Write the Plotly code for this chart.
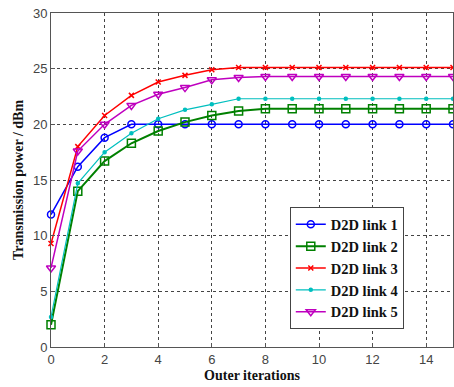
import plotly.graph_objects as go

iterations = list(range(0, 16))
link1 = [11.9, 16.2, 18.8, 20.0, 20.0, 20.0, 20.0, 20.0, 20.0, 20.0, 20.0, 20.0, 20.0, 20.0, 20.0, 20.0]
link2 = [2.0, 14.0, 16.7, 18.3, 19.4, 20.2, 20.8, 21.2, 21.4, 21.4, 21.4, 21.4, 21.4, 21.4, 21.4, 21.4]
link3 = [9.3, 18.0, 20.8, 22.6, 23.8, 24.4, 24.9, 25.1, 25.1, 25.1, 25.1, 25.1, 25.1, 25.1, 25.1, 25.1]
link4 = [2.7, 14.7, 17.5, 19.2, 20.5, 21.3, 21.8, 22.3, 22.3, 22.3, 22.3, 22.3, 22.3, 22.3, 22.3, 22.3]
link5 = [7.1, 17.6, 20.0, 21.7, 22.7, 23.3, 24.0, 24.2, 24.3, 24.3, 24.3, 24.3, 24.3, 24.3, 24.3, 24.3]
names = ["D2D link 1", "D2D link 2", "D2D link 3", "D2D link 4", "D2D link 5"]
x_ticks = [0, 2, 4, 6, 8, 10, 12, 14]
y_ticks = [0, 5, 10, 15, 20, 25, 30]

series = [link1, link2, link3, link4, link5]
colors = ["#0000FF", "#008000", "#FF0000", "#00BFBF", "#BF00BF"]
symbols = ["circle-open", "square-open", "x-thin-open", "circle", "triangle-down-open"]
sizes = [7, 8, 5, 3, 8]
widths = [1.5, 2, 1.5, 1.2, 1.5]

fig = go.Figure()
for vals, name, c, s, sz, w in zip(series, names, colors, symbols, sizes, widths):
    fig.add_trace(go.Scatter(
        x=iterations, y=vals, name=name, mode="lines+markers",
        line=dict(color=c, width=w),
        marker=dict(symbol=s, size=sz, color=c, line=dict(color=c, width=1.5)),
        cliponaxis=False,
    ))

axis_common = dict(
    showline=True, linecolor="#555555", linewidth=1, mirror=True,
    showgrid=True, gridcolor="#444444", griddash="dot", gridwidth=1,
    ticks="inside", ticklen=4, tickcolor="#555555",
    tickfont=dict(family="Liberation Sans, Arial", size=13, color="#444444"),
    zeroline=False,
)

fig.update_layout(
    width=454, height=387,
    margin=dict(l=51, r=1, t=13, b=40),
    paper_bgcolor="white", plot_bgcolor="white",
    xaxis=dict(range=[0, 15], tickvals=x_ticks, **axis_common,
               title=dict(text="Outer iterations", standoff=4,
                          font=dict(family="Liberation Serif, Times New Roman", size=14, color="#111111", weight="bold"))),
    yaxis=dict(range=[0, 30], tickvals=y_ticks, **axis_common,
               title=dict(text="Transmission power / dBm", standoff=6,
                          font=dict(family="Liberation Serif, Times New Roman", size=14, color="#111111", weight="bold"))),
    legend=dict(
        x=0.594, y=0.418, xanchor="left", yanchor="top",
        bgcolor="white", bordercolor="#444444", borderwidth=1,
        font=dict(family="Liberation Serif, Times New Roman", size=14.5, color="#111111", weight="bold"),
        tracegroupgap=0, itemwidth=30,
    ),
    showlegend=True,
)

fig.write_html("out.html")
